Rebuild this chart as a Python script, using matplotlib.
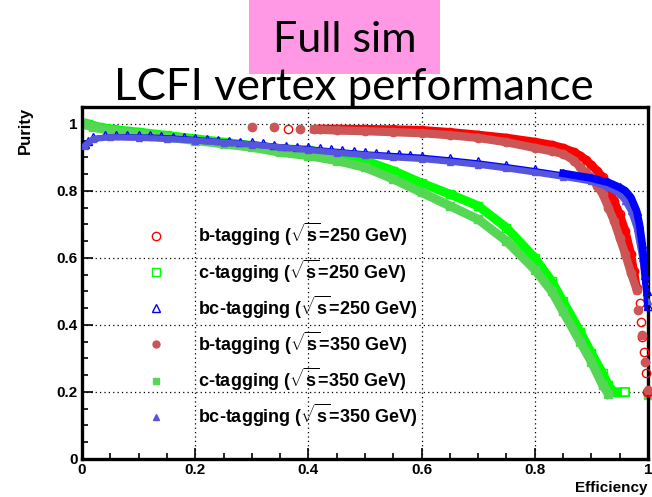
import matplotlib
matplotlib.use("Agg")
import matplotlib.pyplot as plt
from matplotlib.lines import Line2D
from matplotlib.patches import Rectangle
from matplotlib.ticker import MultipleLocator, FuncFormatter

plt.rcParams['font.family'] = ['Liberation Sans', 'DejaVu Sans']
plt.rcParams['mathtext.fontset'] = 'custom'
plt.rcParams['mathtext.rm'] = 'Liberation Sans:bold'
plt.rcParams['mathtext.bf'] = 'Liberation Sans:bold'

# b-tagging, sqrt(s)=250 GeV (open red circles)
b250_x = [0.42, 0.45, 0.5, 0.55, 0.6, 0.65, 0.7, 0.75, 0.8, 0.83, 0.85, 0.87, 0.88, 0.89,
          0.9, 0.91, 0.92, 0.93, 0.94, 0.95, 0.96, 0.97, 0.975, 0.98]
b250_y = [0.985, 0.985, 0.984, 0.983, 0.981, 0.975, 0.967, 0.958, 0.946, 0.937, 0.928, 0.915,
          0.905, 0.893, 0.877, 0.86, 0.84, 0.81, 0.77, 0.73, 0.68, 0.61, 0.56, 0.51]
b250_tail_x = [0.364, 0.986, 0.988, 0.99, 0.993, 0.996, 0.998, 1.0]
b250_tail_y = [0.985, 0.465, 0.41, 0.365, 0.32, 0.256, 0.2, 0.2]

# b-tagging, sqrt(s)=350 GeV (filled red)
b350_x = [0.41, 0.45, 0.5, 0.55, 0.6, 0.65, 0.7, 0.75, 0.8, 0.83, 0.85, 0.87, 0.88, 0.89,
          0.9, 0.91, 0.92, 0.93, 0.94, 0.95, 0.96, 0.97, 0.98]
b350_y = [0.983, 0.98, 0.978, 0.975, 0.972, 0.966, 0.958, 0.945, 0.928, 0.918, 0.91, 0.89,
          0.87, 0.855, 0.84, 0.815, 0.79, 0.75, 0.71, 0.66, 0.61, 0.555, 0.505]
b350_tail_x = [0.30, 0.34, 0.385, 0.982, 0.99, 0.995, 1.0]
b350_tail_y = [0.99, 0.99, 0.985, 0.445, 0.37, 0.29, 0.205]

# c-tagging, sqrt(s)=250 GeV (open green squares)
c250_x = [0.01, 0.03, 0.05, 0.08, 0.1, 0.15, 0.2, 0.25, 0.3, 0.35, 0.4, 0.45, 0.5, 0.55,
          0.6, 0.65, 0.7, 0.75, 0.8, 0.83, 0.85, 0.88, 0.9, 0.92, 0.93, 0.94, 0.95, 0.96]
c250_y = [1.0, 0.99, 0.985, 0.978, 0.975, 0.965, 0.955, 0.945, 0.935, 0.925, 0.922, 0.905,
          0.89, 0.86, 0.823, 0.79, 0.755, 0.69, 0.6, 0.53, 0.47, 0.38, 0.316, 0.255, 0.22,
          0.2, 0.2, 0.2]

# c-tagging, sqrt(s)=350 GeV (filled green squares)
c350_x = [0.005, 0.02, 0.05, 0.1, 0.15, 0.2, 0.25, 0.3, 0.35, 0.4, 0.45, 0.5, 0.55, 0.6,
          0.65, 0.7, 0.75, 0.8, 0.83, 0.85, 0.88, 0.9, 0.92, 0.93]
c350_y = [0.998, 0.99, 0.98, 0.97, 0.96, 0.95, 0.94, 0.93, 0.915, 0.905, 0.89, 0.87, 0.835,
          0.795, 0.755, 0.715, 0.65, 0.565, 0.5, 0.44, 0.35, 0.29, 0.22, 0.195]
c350_tail_x = [1.0]
c350_tail_y = [0.19]

# bc-tagging, sqrt(s)=250 GeV (open blue triangles)
bc250_x = [0.005, 0.01, 0.02, 0.04, 0.06, 0.08, 0.1, 0.12, 0.14, 0.16, 0.18, 0.2, 0.22, 0.24,
           0.26, 0.28, 0.3, 0.32, 0.34, 0.36, 0.38, 0.4, 0.42, 0.44, 0.46, 0.48, 0.5, 0.52,
           0.54, 0.56, 0.58, 0.6, 0.65, 0.7, 0.75, 0.8, 0.85, 0.9, 0.93, 0.95, 0.96, 0.97,
           0.98, 0.985, 0.99, 0.995, 0.998, 1.0]
bc250_y = [0.94, 0.95, 0.96, 0.965, 0.966, 0.966, 0.965, 0.965, 0.964, 0.962, 0.96, 0.958,
           0.955, 0.952, 0.95, 0.947, 0.945, 0.942, 0.938, 0.935, 0.932, 0.93, 0.927, 0.924,
           0.921, 0.918, 0.915, 0.913, 0.911, 0.909, 0.907, 0.905, 0.897, 0.888, 0.877, 0.865,
           0.852, 0.838, 0.825, 0.81, 0.8, 0.78, 0.74, 0.7, 0.64, 0.55, 0.5, 0.455]

# bc-tagging, sqrt(s)=350 GeV (filled blue triangles)
bc350_x = [0.005, 0.02, 0.05, 0.1, 0.15, 0.2, 0.25, 0.3, 0.35, 0.4, 0.45, 0.5, 0.55, 0.6,
           0.65, 0.7, 0.75, 0.8, 0.85, 0.9, 0.93, 0.95, 0.96, 0.97, 0.98, 0.99, 0.995, 1.0]
bc350_y = [0.935, 0.955, 0.96, 0.958, 0.955, 0.95, 0.944, 0.938, 0.93, 0.922, 0.914, 0.907,
           0.9, 0.895, 0.887, 0.878, 0.867, 0.855, 0.842, 0.828, 0.81, 0.79, 0.77, 0.74, 0.69,
           0.6, 0.53, 0.47]

labels = [r'b-tagging ($\sqrt{\mathrm{s}}$=250 GeV)', r'c-tagging ($\sqrt{\mathrm{s}}$=250 GeV)',
          r'bc-tagging ($\sqrt{\mathrm{s}}$=250 GeV)', r'b-tagging ($\sqrt{\mathrm{s}}$=350 GeV)',
          r'c-tagging ($\sqrt{\mathrm{s}}$=350 GeV)', r'bc-tagging ($\sqrt{\mathrm{s}}$=350 GeV)']

red1, red2 = '#ff0000', '#cc5555'
green1, green2 = '#00ff00', '#55d655'
blue1, blue2 = '#0000ff', '#5555dd'

fig = plt.figure(figsize=(6.52, 4.97), dpi=100)
ax = fig.add_axes([0.1258, 0.0765, 0.868, 0.7082])

# white box behind legend hides the grid
ax.add_patch(Rectangle((0.058, 0.054), 0.569, 0.639, transform=ax.transAxes,
                       facecolor='white', edgecolor='none', zorder=1))

# green
ax.plot(c250_x, c250_y, '-', color=green1, lw=6.5, zorder=2)
ax.plot(c250_x, c250_y, 's', color=green1, mfc='none', ms=6, mew=1, zorder=2)
ax.plot(c350_x, c350_y, '-', color=green2, lw=6.5, zorder=2.1)
ax.plot(c350_x, c350_y, 's', color=green2, ms=6, zorder=2.1)
ax.plot(c350_tail_x, c350_tail_y, 's', color=green2, ms=6, zorder=2.1, clip_on=False)
ax.plot([c250_x[-1]], [c250_y[-1]], 's', color=green1, mfc='white', ms=6, mew=1.2, zorder=2.2)

# red
ax.plot(b250_x, b250_y, '-', color=red1, lw=6, zorder=3)
ax.plot(b250_x, b250_y, 'o', color=red1, mfc='none', ms=6, zorder=3)
ax.plot(b250_tail_x, b250_tail_y, 'o', color=red1, mfc='none', ms=6, zorder=3, clip_on=False)
ax.plot(b350_x, b350_y, '-', color=red2, lw=6, zorder=3.1)
ax.plot(b350_x, b350_y, 'o', color=red2, ms=6, zorder=3.1)
ax.plot(b350_tail_x, b350_tail_y, 'o', color=red2, ms=6, zorder=3.1, clip_on=False)

# blue
ax.plot(bc250_x, bc250_y, '-', color=blue1, lw=1.5, zorder=4)
ax.plot(bc250_x, bc250_y, '^', color=blue1, mfc='none', ms=6, mew=1, zorder=4, clip_on=False)
ax.plot(bc350_x, bc350_y, '-', color=blue2, lw=4.5, zorder=4.1)
ax.plot(bc350_x, bc350_y, '^', color=blue2, ms=5, zorder=4.1, clip_on=False)
ax.plot(bc250_x[-12:], bc250_y[-12:], '-', color=blue1, lw=5.5, zorder=4.2)

ax.set_xlim(0, 1)
ax.set_ylim(0, 1.05)
fmt = FuncFormatter(lambda v, p: '%g' % round(v, 2))
ax.xaxis.set_major_locator(MultipleLocator(0.2))
ax.xaxis.set_minor_locator(MultipleLocator(0.05))
ax.yaxis.set_major_locator(MultipleLocator(0.2))
ax.yaxis.set_minor_locator(MultipleLocator(0.05))
ax.xaxis.set_major_formatter(fmt)
ax.yaxis.set_major_formatter(fmt)
ax.tick_params(which='both', direction='in', top=False, right=False, width=1.2)
ax.tick_params(which='major', length=8, labelsize=11, pad=3)
ax.tick_params(which='minor', length=4.5)
for lab in ax.get_xticklabels() + ax.get_yticklabels():
    lab.set_fontweight('bold')
ax.grid(True, which='major', color='black', linestyle=(0, (1, 2.5)), linewidth=0.9)
for s in ax.spines.values():
    s.set_linewidth(2.4)

handles = [
    Line2D([], [], ls='none', marker='o', color=red1, mfc='none', ms=6),
    Line2D([], [], ls='none', marker='s', color=green1, mfc='none', ms=6),
    Line2D([], [], ls='none', marker='^', color=blue1, mfc='none', ms=6),
    Line2D([], [], ls='none', marker='o', color=red2, ms=5),
    Line2D([], [], ls='none', marker='s', color=green2, ms=5),
    Line2D([], [], ls='none', marker='^', color=blue2, ms=5),
]
ax.legend(handles, labels, loc='upper left', bbox_to_anchor=(0.115, 0.675), frameon=False,
          handlelength=1.0, handletextpad=1.8, borderpad=0, borderaxespad=0,
          labelspacing=0.5, prop={'weight': 'bold', 'size': 13})

fig.text(25 / 652, 1 - 130 / 497, 'Purity', rotation=90, ha='center', va='center',
         fontsize=12, fontweight='bold')
fig.text(648 / 652, 1 - 488 / 497, 'Efficiency', ha='right', va='center',
         fontsize=11, fontweight='bold')

fig.patches.append(Rectangle((249 / 652, 1 - 74 / 497), 191 / 652, 74 / 497,
                             transform=fig.transFigure, facecolor='#ff99e6',
                             edgecolor='none', zorder=0))
fig.text(345 / 652, 1 - 52 / 497, 'Full sim', ha='center', va='baseline',
         fontsize=31, family='Lato')
fig.text(354 / 652, 1 - 100 / 497, 'LCFI vertex performance', ha='center', va='baseline',
         fontsize=31.5, family='Lato')

fig.savefig('out.png', dpi=100)
